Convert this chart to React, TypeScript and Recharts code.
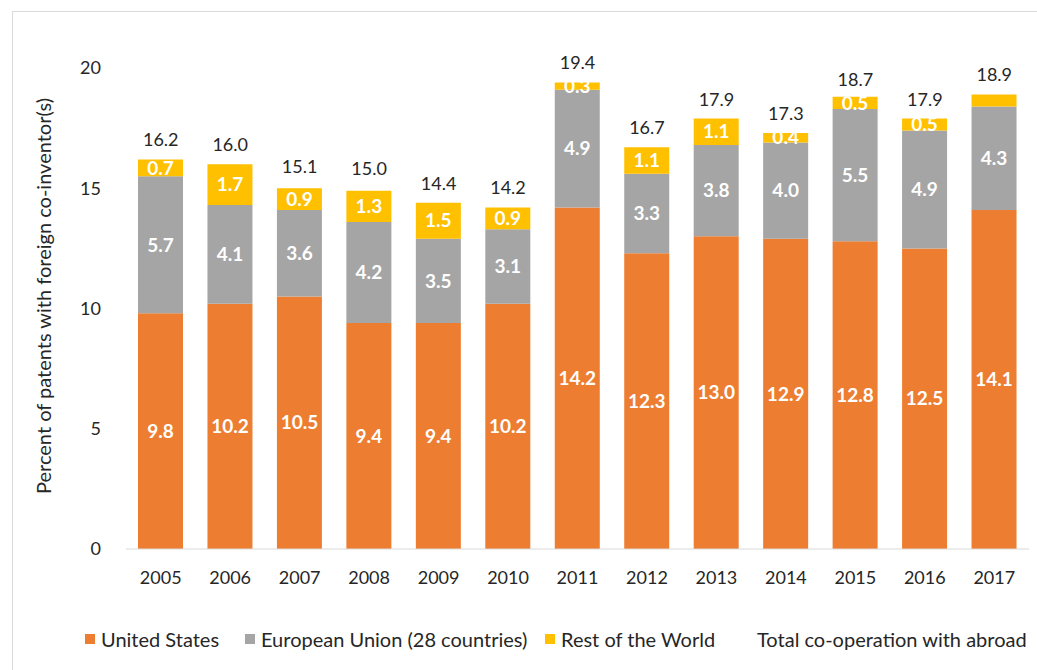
import React from 'react';
import { Bar, Line, XAxis, YAxis, LabelList, ComposedChart } from 'recharts';

const years = ['2005', '2006', '2007', '2008', '2009', '2010', '2011', '2012', '2013', '2014', '2015', '2016', '2017'];
const unitedStates = [9.8, 10.2, 10.5, 9.4, 9.4, 10.2, 14.2, 12.3, 13.0, 12.9, 12.8, 12.5, 14.1];
const europeanUnion = [5.7, 4.1, 3.6, 4.2, 3.5, 3.1, 4.9, 3.3, 3.8, 4.0, 5.5, 4.9, 4.3];
const restOfWorld = [0.7, 1.7, 0.9, 1.3, 1.5, 0.9, 0.3, 1.1, 1.1, 0.4, 0.5, 0.5, 0.5];
const restOfWorldLabels = ['0.7', '1.7', '0.9', '1.3', '1.5', '0.9', '0.3', '1.1', '1.1', '0.4', '0.5', '0.5', ''];
const totals = [16.2, 16.0, 15.1, 15.0, 14.4, 14.2, 19.4, 16.7, 17.9, 17.3, 18.7, 17.9, 18.9];
const yTicks = [0, 5, 10, 15, 20];

const data = years.map((year, i) => ({
  year,
  us: unitedStates[i],
  eu: europeanUnion[i],
  row: restOfWorld[i],
  rowLabel: restOfWorldLabels[i],
  total: totals[i],
}));

const FONT = 'Lato, "Noto Sans", sans-serif';
const TEXT = '#262626';

const COLORS = {
  us: '#ED7D31',
  eu: '#A5A5A5',
  row: '#FFC000',
};

// legend entries, left edge of each entry in px
const legendItems = [
  { name: 'United States', color: COLORS.us, left: 85 },
  { name: 'European Union (28 countries)', color: COLORS.eu, left: 245 },
  { name: 'Rest of the World', color: COLORS.row, left: 545 },
  { name: 'Total co-operation with abroad', color: null, left: 757 },
];

const insideLabel = {
  fill: '#ffffff',
  fontFamily: FONT,
  fontSize: 19,
  fontWeight: 700,
};

export default function App() {
  return (
    <div
      style={{
        position: 'fixed',
        left: 0,
        top: 0,
        width: 1037,
        height: 670,
        background: '#fff',
        overflow: 'hidden',
        fontFamily: FONT,
      }}
    >
      <div
        style={{
          position: 'absolute',
          left: 12,
          top: 11,
          width: 1040,
          height: 680,
          border: '1px solid #d9d9d9',
        }}
      />
      <div style={{ position: 'absolute', left: 0, top: 0 }}>
        <ComposedChart
          width={1037}
          height={670}
          data={data}
          margin={{ top: 68, right: 8, bottom: 81, left: 66 }}
        >
          <XAxis
            dataKey="year"
            axisLine={{ stroke: '#d9d9d9', strokeWidth: 1 }}
            tickLine={false}
            tickSize={0}
            tickMargin={22}
            height={40}
            tick={{ fill: TEXT, fontSize: 18, fontFamily: FONT }}
            interval={0}
          />
          <YAxis
            domain={[0, 20]}
            ticks={yTicks}
            axisLine={false}
            tickLine={false}
            tickSize={0}
            tickMargin={25}
            width={60}
            tick={{ fill: TEXT, fontSize: 18, fontFamily: FONT }}
          />
          <Bar dataKey="us" stackId="a" barSize={45} fill={COLORS.us} isAnimationActive={false}>
            <LabelList dataKey="us" position="center" style={insideLabel} formatter={(v: number) => v.toFixed(1)} />
          </Bar>
          <Bar dataKey="eu" stackId="a" barSize={45} fill={COLORS.eu} isAnimationActive={false}>
            <LabelList dataKey="eu" position="center" style={insideLabel} formatter={(v: number) => v.toFixed(1)} />
          </Bar>
          <Bar dataKey="row" stackId="a" barSize={45} fill={COLORS.row} isAnimationActive={false}>
            <LabelList dataKey="rowLabel" position="center" style={insideLabel} />
          </Bar>
          <Line
            dataKey="total"
            stroke="none"
            dot={false}
            activeDot={false}
            isAnimationActive={false}
          >
            <LabelList
              dataKey="total"
              position="top"
              offset={13}
              style={{ fill: TEXT, fontFamily: FONT, fontSize: 18 }}
              formatter={(v: number) => v.toFixed(1)}
            />
          </Line>
        </ComposedChart>
      </div>

      {/* y axis title */}
      <div
        style={{
          position: 'absolute',
          left: 43,
          top: 296,
          transform: 'translate(-50%, -50%) rotate(-90deg)',
          whiteSpace: 'nowrap',
          fontSize: 20,
          color: TEXT,
        }}
      >
        Percent of patents with foreign co-inventor(s)
      </div>

      {/* legend */}
      {legendItems.map((item) => (
        <div
          key={item.name}
          style={{
            position: 'absolute',
            left: item.left,
            top: 627,
            display: 'flex',
            alignItems: 'center',
            fontSize: 20,
            color: TEXT,
            whiteSpace: 'nowrap',
          }}
        >
          {item.color && (
            <span
              style={{ display: 'inline-block', width: 10, height: 10, background: item.color, marginRight: 6 }}
            />
          )}
          <span>{item.name}</span>
        </div>
      ))}
    </div>
  );
}
